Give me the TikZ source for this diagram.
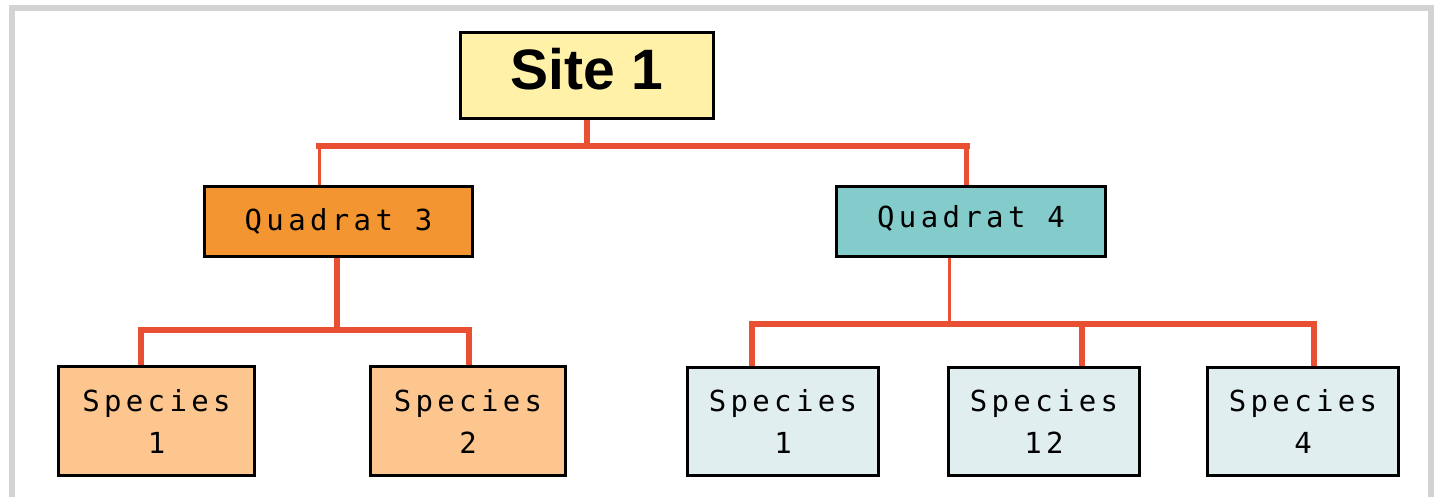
\documentclass[tikz,border=0pt]{standalone}
\usepackage{fontspec}
\newfontfamily\sitefont{Liberation Sans}
\newfontfamily\pixfont{DejaVu Sans Mono}[LetterSpace=15]
\usetikzlibrary{backgrounds}
\definecolor{framegray}{HTML}{D3D3D3}
\definecolor{linered}{HTML}{E94F33}
\definecolor{sitefill}{HTML}{FFF1A8}
\definecolor{qorange}{HTML}{F39530}
\definecolor{qcyan}{HTML}{83CCCB}
\definecolor{sorange}{HTML}{FCC68E}
\definecolor{scyan}{HTML}{E0EEEF}
\tikzset{
  box/.style={draw=black, line width=3pt, inner sep=0pt, outer sep=0pt},
  sitebox/.style={box, fill=sitefill, minimum width=253pt, minimum height=86pt,
    font=\sitefont\bfseries\fontsize{57}{60}\selectfont, text height=42pt, text depth=13pt},
  quadbox/.style={box, minimum width=268pt, minimum height=70pt,
    font=\pixfont\fontsize{29}{34}\selectfont, text height=22pt},
  specbox/.style={box, minimum width=191pt, minimum height=108pt, align=center,
    font=\pixfont\fontsize{29}{42}\selectfont},
  conn/.style={draw=linered, line width=6pt},
  thinconn/.style={draw=linered, line width=3pt},
  bar/.style={conn, line cap=rect}
}
\begin{document}
\begin{tikzpicture}[x=1pt,y=-1pt]
\useasboundingbox (0,0) rectangle (1434,497);
\clip (0,0) rectangle (1434,497);
\draw[framegray, line width=6.5pt] (12,8) rectangle (1430.75,540);

\node[sitebox] (site) at (587,75.5) {Site 1};
\node[quadbox, fill=qorange, text depth=5pt] (q3) at (338.5,221.5) {Quadrat 3};
\node[quadbox, fill=qcyan, minimum width=269pt, text depth=11pt] (q4) at (971,221.5) {Quadrat 4};
\node[specbox, fill=sorange, minimum width=196pt, minimum height=109pt] (s1) at (156.5,421) {Species\\1};
\node[specbox, fill=sorange, minimum width=195pt, minimum height=109pt] (s2) at (468,421) {Species\\2};
\node[specbox, fill=scyan] (s3) at (783,421.5) {Species\\1};
\node[specbox, fill=scyan] (s4) at (1044,421.5) {Species\\12};
\node[specbox, fill=scyan] (s5) at (1303,421.5) {Species\\4};

\begin{scope}[on background layer]
  \coordinate (j0) at (587,146);
  \coordinate (j0L) at (319,146);
  \coordinate (j0R) at (966.5,146);
  \draw[conn, line width=6.5pt] (site.south) -- (j0);
  \draw[bar] (j0L) -- (j0R);
  \draw[thinconn] (j0L) -- (q3.north -| j0L);
  \draw[conn, line width=5pt] (j0R) -- (q4.north -| j0R);

  \coordinate (j1) at (337,330);
  \coordinate (j1L) at (141,330);
  \coordinate (j1R) at (469,330);
  \draw[conn] (q3.south -| j1) -- (j1);
  \draw[bar] (j1L) -- (j1R);
  \draw[conn] (j1L) -- (s1.north -| j1L);
  \draw[conn] (j1R) -- (s2.north -| j1R);

  \coordinate (j2) at (949,323.5);
  \coordinate (j2L) at (752,323.5);
  \coordinate (j2M) at (1081.5,323.5);
  \coordinate (j2R) at (1314,323.5);
  \draw[thinconn] (q4.south -| j2) -- (j2);
  \draw[bar] (j2L) -- (j2R);
  \draw[conn] (j2L) -- (s3.north -| j2L);
  \draw[conn] (j2M) -- (s4.north -| j2M);
  \draw[conn] (j2R) -- (s5.north -| j2R);
\end{scope}
\end{tikzpicture}
\end{document}
